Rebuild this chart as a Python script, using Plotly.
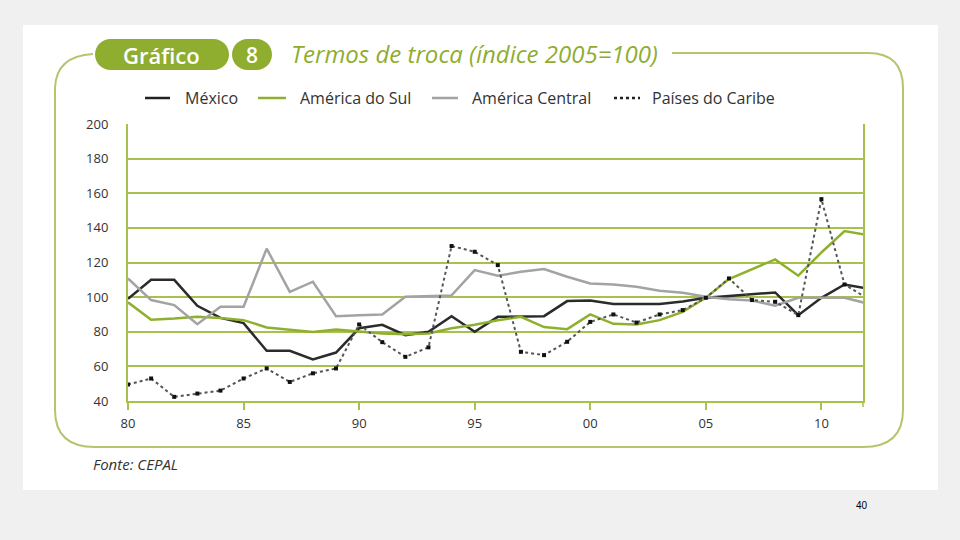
import plotly.graph_objects as go

years = list(range(1980, 2013))
mexico = [99, 110, 110, 95, 88, 85, 69, 69, 64, 68, 82,
          84, 78, 80, 89, 80, 88.6, 89, 89, 97.7, 98, 96,
          96, 96, 97.5, 99.6, 100.6, 101.5, 102.7, 89.6, 99.6, 107.3, 105]
sul = [97, 87, 87.6, 88.6, 88, 86.7, 82.5, 81.3, 79.8, 81.3, 80,
       79, 78.5, 79, 82, 84, 86.7, 88.6, 82.7, 81.5, 90, 84.6,
       84.2, 86.7, 91.5, 99.6, 110.4, 116.2, 121.8, 112.4, 125.8, 138.2, 135.8]
central = [110.8, 98.3, 95.4, 84.4, 94.4, 94.4, 128, 103, 108.9, 89, 89.6,
           90, 100.2, 100.6, 101, 115.6, 112.3, 114.6, 116.2, 111.8, 107.9, 107.3,
           106, 103.7, 102.5, 100.2, 98.8, 98, 95, 99.6, 99.6, 99.6, 96.3]
caribe = [49.5, 53, 42.4, 44.3, 46, 53, 58.8, 51, 56, 58.8, 84.2,
          74, 65.5, 71, 129.5, 126.2, 118.5, 68.4, 66.5, 74.2, 85.7, 90,
          85.3, 90, 92.5, 99.6, 110.8, 98.3, 97.3, 89.6, 156.6, 107.3, 99.2]

xtick_vals = [1980, 1985, 1990, 1995, 2000, 2005, 2010]
xtick_text = ["80", "85", "90", "95", "00", "05", "10"]
ytick_vals = [40, 60, 80, 100, 120, 140, 160, 180, 200]

names = ["México", "América do Sul", "América Central", "Países do Caribe"]
title_text = "Termos de troca (índice 2005=100)"
source_text = "Fonte: CEPAL"

GREEN = "#8fad2f"
GRID = "#a6c14c"
BORDER = "#b3c66e"
TXT = "#333333"
FONT = "Open Sans"

L, R, T, B = 128, 863, 124, 401
W, H = R - L, B - T


def px(x):
    return (x - L) / W


def py(y):
    return (B - y) / H


def pt(x, y):
    return f"{px(x):.5f},{py(y):.5f}"


def rounded_rect(x0, y0, x1, y1, r):
    k = 0.5523 * r
    return (f"M {pt(x0 + r, y0)} L {pt(x1 - r, y0)} "
            f"C {pt(x1 - r + k, y0)} {pt(x1, y0 + r - k)} {pt(x1, y0 + r)} "
            f"L {pt(x1, y1 - r)} "
            f"C {pt(x1, y1 - r + k)} {pt(x1 - r + k, y1)} {pt(x1 - r, y1)} "
            f"L {pt(x0 + r, y1)} "
            f"C {pt(x0 + r - k, y1)} {pt(x0, y1 - r + k)} {pt(x0, y1 - r)} "
            f"L {pt(x0, y0 + r)} "
            f"C {pt(x0, y0 + r - k)} {pt(x0 + r - k, y0)} {pt(x0 + r, y0)} Z")


fig = go.Figure()

styles = [
    dict(color="#2b2b2b", width=2.5),
    dict(color="#8fb02e", width=2.5),
    dict(color="#a3a3a3", width=2.5),
]
for name, vals, st in zip(names[:3], [mexico, sul, central], styles):
    fig.add_trace(go.Scatter(x=years, y=vals, name=name, mode="lines",
                             line=dict(color=st["color"], width=st["width"]),
                             showlegend=False))
fig.add_trace(go.Scatter(x=years, y=caribe, name=names[3], mode="lines+markers",
                         line=dict(color="#555555", width=2, dash="dot"),
                         marker=dict(symbol="square", size=4, color="#111111"),
                         showlegend=False))

shapes = []
shapes.append(dict(type="rect", xref="paper", yref="paper",
                   x0=px(23), x1=px(938), y0=py(490), y1=py(25),
                   fillcolor="white", line=dict(width=0), layer="below"))
frame = (f"M {pt(93, 54)} Q {pt(56, 56)} {pt(55, 88)} "
         f"L {pt(55, 410)} Q {pt(55, 447)} {pt(95, 447)} "
         f"L {pt(863, 447)} Q {pt(903, 447)} {pt(903, 410)} "
         f"L {pt(903, 88)} Q {pt(903, 53)} {pt(868, 53)} "
         f"L {pt(672, 53)}")
shapes.append(dict(type="path", xref="paper", yref="paper", path=frame,
                   line=dict(color=BORDER, width=2), layer="below"))
shapes.append(dict(type="path", xref="paper", yref="paper",
                   path=rounded_rect(95, 39, 229, 70, 15.5),
                   fillcolor=GREEN, line=dict(width=0), layer="above"))
shapes.append(dict(type="path", xref="paper", yref="paper",
                   path=rounded_rect(232, 39, 272, 70, 15.5),
                   fillcolor=GREEN, line=dict(width=0), layer="above"))
shapes.append(dict(type="line", xref="paper", yref="paper",
                   x0=1, x1=1, y0=0, y1=py(407),
                   line=dict(color=GRID, width=1.5)))

leg_y = 98
leg_items = [
    (145, 170, 183, dict(color="#222222", width=2.5)),
    (258, 286, 298, dict(color="#8fb02e", width=2.5)),
    (432, 458, 470, dict(color="#a3a3a3", width=2.5)),
    (614, 640, 650, dict(color="#222222", width=2.5, dash="dot")),
]
annotations = []
for (x0, x1, xt, ln), nm in zip(leg_items, names):
    shapes.append(dict(type="line", xref="paper", yref="paper",
                       x0=px(x0), x1=px(x1), y0=py(leg_y), y1=py(leg_y),
                       line=ln))
    annotations.append(dict(xref="paper", yref="paper", x=px(xt), y=py(leg_y),
                            xanchor="left", yanchor="middle", showarrow=False,
                            text=nm, font=dict(family=FONT, size=16, color=TXT)))

annotations += [
    dict(xref="paper", yref="paper", x=px(161), y=py(55), xanchor="center",
         yanchor="middle", showarrow=False, text="Gráfico",
         font=dict(family=FONT, size=22, color="white", weight=600)),
    dict(xref="paper", yref="paper", x=px(252), y=py(55), xanchor="center",
         yanchor="middle", showarrow=False, text="8",
         font=dict(family=FONT, size=21, color="white", weight=600)),
    dict(xref="paper", yref="paper", x=px(289), y=py(54), xanchor="left",
         yanchor="middle", showarrow=False, text=f"<i>{title_text}</i>",
         font=dict(family=FONT, size=24, color=GREEN)),
    dict(xref="paper", yref="paper", x=px(91), y=py(464), xanchor="left",
         yanchor="middle", showarrow=False, text=f"<i>{source_text}</i>",
         font=dict(family=FONT, size=15, color=TXT)),
    dict(xref="paper", yref="paper", x=px(862), y=py(505), xanchor="center",
         yanchor="middle", showarrow=False, text="40",
         font=dict(family="Liberation Sans", size=10, color="#000000")),
]

fig.update_layout(
    width=960, height=540, autosize=False,
    margin=dict(l=L, r=960 - R, t=T, b=540 - B, pad=0),
    paper_bgcolor="#f0f0f0",
    plot_bgcolor="#f2f5e4",
    shapes=shapes,
    annotations=annotations,
    showlegend=False,
)
fig.update_xaxes(range=[1980, 2011.8], tickvals=xtick_vals, ticktext=xtick_text,
                 showgrid=False, zeroline=False,
                 showline=True, linecolor=GRID, linewidth=2, mirror=False,
                 ticks="outside", ticklen=7, tickwidth=1.5, tickcolor=GRID,
                 ticklabelstandoff=2,
                 tickfont=dict(family=FONT, size=13, color=TXT))
fig.update_yaxes(range=[40, 200], tickvals=ytick_vals,
                 showgrid=True, gridcolor=GRID, gridwidth=1.5, zeroline=False,
                 showline=True, linecolor=GRID, linewidth=2, mirror=True,
                 ticks="", ticklabelstandoff=15,
                 tickfont=dict(family=FONT, size=13, color=TXT))

fig.write_html("out.html")
